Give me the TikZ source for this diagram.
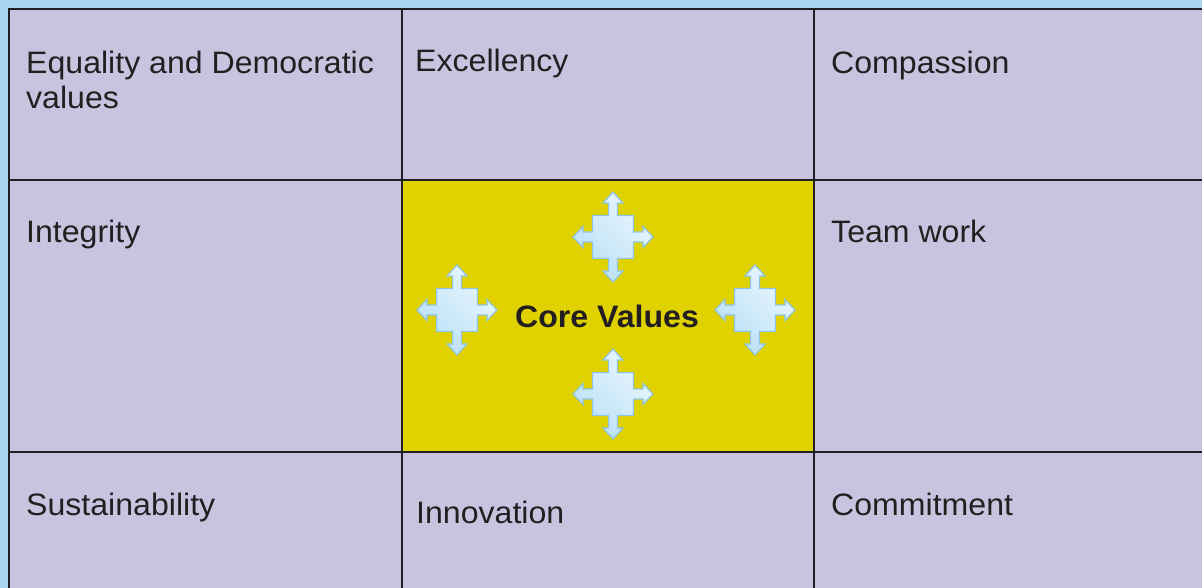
\documentclass[tikz,border=0pt]{standalone}
\usepackage{fontspec}
\setmainfont{Liberation Sans}[FakeStretch=1.035]
\definecolor{bgblue}{HTML}{A9D5EF}
\definecolor{lav}{HTML}{C8C4E0}
\definecolor{coreyel}{HTML}{E0D200}
\definecolor{gridline}{HTML}{231F20}
\definecolor{arrowlite}{HTML}{EAF6FD}
\definecolor{arrowdark}{HTML}{B8E0F6}
\definecolor{arrowedge}{HTML}{8EC3E4}
\definecolor{txt}{HTML}{231F20}
\tikzset{
  gridl/.style={draw=gridline, line width=2.6pt},
  label/.style={anchor=base west, inner sep=0pt, text=txt, font=\fontsize{31}{35}\selectfont},
  corelabel/.style={anchor=base, inner sep=0pt, text=txt, font=\fontsize{31}{35}\selectfont\bfseries},
  crossicon/.pic={
    \path[draw=arrowedge, line width=1.2pt, left color=arrowdark, right color=arrowlite, shading angle=135]
      (0,-45) -- (10,-34) -- (4.5,-34) -- (4.5,-21.5) -- (20.5,-21.5) -- (20.5,-5) -- (30,-5) -- (30,-10.5)
      -- (40,0) -- (30,10.5) -- (30,5) -- (20.5,5) -- (20.5,21.5) -- (4.5,21.5) -- (4.5,34) -- (10,34)
      -- (0,45) -- (-10,34) -- (-4.5,34) -- (-4.5,21.5) -- (-20.5,21.5) -- (-20.5,5) -- (-30,5) -- (-30,10.5)
      -- (-40,0) -- (-30,-10.5) -- (-30,-5) -- (-20.5,-5) -- (-20.5,-21.5) -- (-4.5,-21.5) -- (-4.5,-34) -- (-10,-34) -- cycle;
  }
}
\begin{document}
\begin{tikzpicture}[x=1pt, y=-1pt]
\useasboundingbox (0,0) rectangle (1202,588);
\fill[bgblue] (0,0) rectangle (1202,588);
\fill[lav] (9,9) rectangle (1202,588);
\fill[coreyel] (402,180) rectangle (814,452);
\draw[gridl] (1203,9) -- (9,9) -- (9,589);
\draw[gridl] (402,9) -- (402,589);
\draw[gridl] (814,9) -- (814,589);
\draw[gridl] (9,180) -- (1203,180);
\draw[gridl] (9,452) -- (1203,452);
\draw[gridl] (402,180) rectangle (814,452);
\pic at (613,237) {crossicon};
\pic at (457,310) {crossicon};
\pic at (755,310) {crossicon};
\pic at (613,394) {crossicon};
\node[label] (equality) at (26,74) {Equality and Democratic};
\node[label] (values) at (26,109) {values};
\node[label] (excellency) at (415,72) {Excellency};
\node[label] (compassion) at (831,74) {Compassion};
\node[label] (integrity) at (26,243) {Integrity};
\node[label] (teamwork) at (831,243) {Team work};
\node[label] (sustain) at (26,515) {Sustainability};
\node[label] (innovation) at (416,523) {Innovation};
\node[label] (commitment) at (831,515) {Commitment};
\node[corelabel] (core) at (607,327) {Core Values};
\end{tikzpicture}
\end{document}
